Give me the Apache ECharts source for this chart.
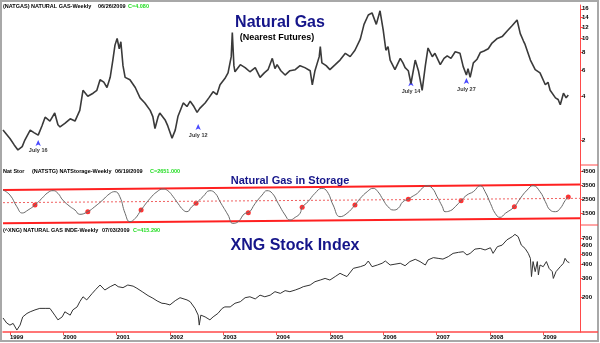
<!DOCTYPE html>
<html><head><meta charset="utf-8">
<script src="https://cdn.jsdelivr.net/npm/echarts@6/dist/echarts.min.js"></script>
<style>html,body{margin:0;padding:0;background:#fff}#c{width:600px;height:343px}</style>
</head><body><div id="c"></div>
<script>
// ---------- DATA ----------
const yearTicks = [1999,2000,2001,2002,2003,2004,2005,2006,2007,2008,2009];
const ngTicks = [2,4,6,8,10,12,14,16];
const storTicks = [1500,2500,3500,4500];
const xngTicks = [200,300,400,500,600,700];

// Natural gas nearest futures (weekly, $)
const ngYears = [1998.87,1999.00,1999.08,1999.15,1999.23,1999.28,1999.38,1999.45,1999.53,1999.60,
 1999.66,1999.75,1999.84,1999.90,1999.94,2000.03,2000.13,2000.22,2000.31,2000.37,
 2000.46,2000.56,2000.63,2000.69,2000.76,2000.82,2000.88,2000.93,2000.97,2001.01,
 2001.05,2001.08,2001.12,2001.16,2001.25,2001.35,2001.44,2001.53,2001.63,2001.68,
 2001.72,2001.78,2001.81,2001.91,2001.96,2002.04,2002.10,2002.15,2002.25,2002.32,
 2002.38,2002.45,2002.51,2002.56,2002.66,2002.73,2002.81,2002.88,2002.94,2003.03,
 2003.09,2003.15,2003.17,2003.20,2003.22,2003.32,2003.41,2003.50,2003.60,2003.69,
 2003.77,2003.84,2003.92,2003.97,2004.01,2004.08,2004.16,2004.25,2004.35,2004.44,
 2004.53,2004.63,2004.67,2004.72,2004.80,2004.82,2004.85,2004.93,2005.00,2005.10,
 2005.19,2005.29,2005.38,2005.47,2005.57,2005.64,2005.72,2005.79,2005.87,2005.94,
 2006.00,2006.05,2006.09,2006.13,2006.22,2006.32,2006.37,2006.41,2006.47,2006.52,
 2006.60,2006.66,2006.73,2006.79,2006.84,2006.92,2006.97,2007.07,2007.14,2007.20,
 2007.27,2007.35,2007.44,2007.50,2007.56,2007.59,2007.63,2007.69,2007.76,2007.82,
 2007.89,2007.97,2008.04,2008.14,2008.23,2008.32,2008.42,2008.51,2008.57,2008.63,
 2008.66,2008.76,2008.85,2008.94,2009.04,2009.09,2009.13,2009.23,2009.28,2009.32,
 2009.38,2009.43,2009.47];
const ngPrice = [2.34,2.05,1.85,1.71,1.8,2.0,2.34,2.25,2.16,2.5,
 2.87,2.7,3.07,2.55,2.46,2.6,2.8,2.7,3.2,4.4,
 4.0,4.2,4.4,5.2,5.0,4.6,5.4,7.1,9.0,10.0,
 8.5,9.5,6.5,5.4,5.2,4.6,3.9,3.6,3.2,2.9,
 2.4,2.9,3.07,2.75,2.5,2.06,2.34,2.9,3.6,3.4,
 3.7,3.4,3.1,3.3,3.6,3.9,4.3,4.1,4.8,5.3,
 5.8,7.5,11.0,6.5,5.9,6.6,6.3,5.9,6.3,5.4,
 5.8,6.1,7.3,6.2,6.6,6.0,5.6,6.0,6.1,6.5,
 6.3,6.0,4.8,6.0,7.5,8.8,6.8,6.5,6.1,6.6,
 7.1,7.9,7.5,8.3,9.9,12.5,14.5,15.0,12.5,15.5,
 11.4,8.3,8.8,7.1,6.1,7.3,6.8,6.3,6.0,4.9,
 7.1,6.0,4.4,6.5,8.6,7.5,7.9,6.6,7.3,7.6,
 7.3,8.1,7.9,6.4,5.6,6.2,5.4,6.8,7.2,8.0,
 8.2,8.5,9.3,10.0,10.3,11.2,12.3,13.4,10.8,9.6,
 9.1,7.1,6.1,5.8,4.8,5.0,4.4,3.9,3.8,3.5,
 4.2,3.9,4.08];

// annotation arrows
const annYears = [1999.53, 2002.53, 2006.52, 2007.56];
const annPrice = [2.1, 2.7, 5.4, 5.6];
const annLabels = ['July 16', 'July 12', 'July 14', 'July 27'];

// Natural gas in storage (Bcf)
const storYears = [1998.87,1999.00,1999.13,1999.23,1999.34,1999.47,1999.60,1999.71,1999.81,1999.90,
 1999.99,2000.13,2000.22,2000.31,2000.46,2000.59,2000.74,2000.88,2000.97,2001.06,
 2001.16,2001.25,2001.35,2001.46,2001.63,2001.76,2001.87,2001.96,2002.06,2002.15,
 2002.25,2002.32,2002.41,2002.49,2002.62,2002.75,2002.85,2002.94,2003.09,2003.18,
 2003.28,2003.41,2003.47,2003.60,2003.73,2003.82,2003.92,2004.03,2004.16,2004.25,
 2004.35,2004.44,2004.48,2004.59,2004.72,2004.85,2004.95,2005.06,2005.19,2005.32,
 2005.47,2005.57,2005.70,2005.81,2005.90,2006.00,2006.09,2006.19,2006.28,2006.37,
 2006.47,2006.54,2006.64,2006.73,2006.82,2006.92,2007.01,2007.11,2007.16,2007.26,
 2007.35,2007.46,2007.57,2007.69,2007.82,2007.91,2008.01,2008.10,2008.19,2008.29,
 2008.46,2008.57,2008.70,2008.81,2008.94,2009.04,2009.13,2009.23,2009.32,2009.41,
 2009.47];
const storValues = [3143,2786,1950,1500,1714,2071,2548,2952,3095,2905,
 2429,1950,1714,1405,1595,1950,2429,2905,3024,2667,
 1476,881,1119,1714,2548,3024,3214,3095,2667,2190,
 1714,1595,1950,2190,2667,3095,2905,2310,1357,762,
 881,1476,1524,2190,2786,3095,2905,2190,1357,1000,
 1190,1476,1905,2310,2905,3262,3024,2071,1238,1476,
 2071,2548,3024,3262,3024,2429,1950,1714,1833,2310,
 2476,2667,2905,3262,3452,3262,2667,1950,1595,1667,
 1950,2381,2786,3024,3452,3024,2190,1476,1190,1476,
 1950,2548,3143,3452,3024,2310,1714,1595,1833,2381,
 2651];
// July readings (red dots)
const dotYears = [1999.47,2000.46,2001.46,2002.49,2003.47,2004.48,2005.47,2006.47,2007.46,2008.46,2009.47];
const dotValues = [2071,1595,1714,2190,1524,1905,2071,2476,2381,1950,2651];
// channel lines
const chanYears = [1998.87, 2009.69];
const chanTop = [3143, 3536];
const chanMid = [2238, 2548];
const chanBot = [764, 1121];

// XNG stock index (weekly)
const xngYears = [1998.87,1998.94,1999.00,1999.06,1999.13,1999.19,1999.24,1999.32,1999.38,1999.47,
 1999.56,1999.66,1999.75,1999.84,1999.90,1999.98,2000.03,2000.13,2000.18,2000.26,
 2000.31,2000.37,2000.44,2000.54,2000.61,2000.69,2000.78,2000.88,2000.97,2001.03,
 2001.12,2001.21,2001.31,2001.38,2001.48,2001.59,2001.68,2001.76,2001.85,2001.91,
 2002.00,2002.10,2002.19,2002.32,2002.38,2002.47,2002.53,2002.55,2002.58,2002.66,
 2002.75,2002.81,2002.90,2002.98,2003.03,2003.13,2003.22,2003.32,2003.41,2003.50,
 2003.60,2003.69,2003.78,2003.88,2003.97,2004.07,2004.16,2004.25,2004.35,2004.44,
 2004.50,2004.63,2004.72,2004.82,2004.91,2005.00,2005.10,2005.19,2005.25,2005.32,
 2005.44,2005.57,2005.66,2005.72,2005.79,2005.89,2005.98,2006.04,2006.13,2006.22,
 2006.32,2006.41,2006.50,2006.60,2006.69,2006.79,2006.84,2006.94,2007.03,2007.12,
 2007.22,2007.31,2007.41,2007.50,2007.57,2007.63,2007.72,2007.82,2007.91,2008.01,
 2008.06,2008.14,2008.23,2008.32,2008.42,2008.47,2008.53,2008.59,2008.66,2008.72,
 2008.76,2008.78,2008.81,2008.85,2008.89,2008.91,2008.94,2009.00,2009.06,2009.11,
 2009.17,2009.19,2009.24,2009.32,2009.38,2009.41,2009.45,2009.49];
const xngValues = [128,115,110,114,99,110,131,141,146,152,
 157,157,157,136,123,131,146,136,152,162,
 181,201,188,215,235,258,232,249,262,249,
 244,258,252,241,224,206,195,184,175,174,
 169,185,197,188,181,157,136,110,136,131,
 123,131,141,157,162,162,175,181,197,201,
 192,208,201,208,224,216,229,224,232,241,
 249,258,277,287,297,287,309,331,320,309,
 368,381,395,430,381,395,410,430,395,402,
 410,389,425,446,425,395,440,462,455,448,
 472,506,517,524,489,506,554,562,544,570,
 506,583,603,675,722,758,722,603,562,506,
 455,309,425,343,425,320,395,381,425,368,
 343,297,343,381,410,455,425,415.29];

// ---------- CHART ----------
const X_MIN = 1998.87, X_MAX = 2009.69;
const RED = '#ff4a4a';
const FONT = '"Liberation Sans", Arial, sans-serif';
const chart = echarts.init(document.getElementById('c'), null, {renderer: 'canvas'});

function xAxisCfg(i, show) {
  return {
    type: 'value', gridIndex: i, min: X_MIN, max: X_MAX, show: show,
    axisLine: {show: show, lineStyle: {color: RED, width: 1.5}},
    axisTick: {show: show, customValues: yearTicks, length: 3, lineStyle: {color: RED}},
    axisLabel: {show: show, customValues: yearTicks, formatter: v => String(Math.round(v)),
      align: 'left', margin: 2, fontSize: 6, fontWeight: 'bold', color: '#000', fontFamily: FONT},
    splitLine: {show: false}
  };
}
function yAxisCfg(i, min, max, ticks, logged) {
  const vals = logged ? ticks.map(Math.log) : ticks;
  return {
    type: 'value', gridIndex: i, position: 'right', min: min, max: max,
    axisLine: {show: true, onZero: false, lineStyle: {color: RED, width: 1}},
    axisTick: {show: true, customValues: vals, length: 3, lineStyle: {color: RED}},
    axisLabel: {customValues: vals, formatter: v => String(Math.round(logged ? Math.exp(v) : v)),
      margin: 2, fontSize: 6, fontWeight: 'bold', color: '#000', fontFamily: FONT},
    splitLine: {show: false}
  };
}

function txt(x, y, s, font, fill, align) {
  return {type: 'text', x: x, y: y, silent: true,
    style: {text: s, font: font, fill: fill, align: align || 'left', verticalAlign: 'middle'}};
}
const HF = 'bold 5.5px ' + FONT;
const GREEN = '#22dd22';
const NAVY = '#15158a';

const option = {
  animation: false,
  backgroundColor: '#fff',
  grid: [
    {left: 3, right: 20, top: 5, height: 160},
    {left: 3, right: 20, top: 165, height: 60},
    {left: 3, right: 20, top: 225, height: 107}
  ],
  xAxis: [xAxisCfg(0, false), xAxisCfg(1, false), xAxisCfg(2, true)],
  yAxis: [
    yAxisCfg(0, Math.log(1.346), Math.log(17.0), ngTicks, true),
    yAxisCfg(1, 643, 4929, storTicks, false),
    yAxisCfg(2, Math.log(95), Math.log(925), xngTicks, true)
  ],
  series: [
    {type: 'line', xAxisIndex: 0, yAxisIndex: 0, showSymbol: false, silent: true,
      data: ngYears.map((t, i) => [t, Math.log(ngPrice[i])]),
      lineStyle: {color: '#3a3a3a', width: 1.6}},
    {type: 'scatter', xAxisIndex: 0, yAxisIndex: 0, silent: true,
      symbol: 'arrow', symbolSize: [4, 6], symbolOffset: [0, 3],
      itemStyle: {color: '#1a1aff'},
      data: annYears.map((t, i) => ({value: [t, Math.log(annPrice[i])], name: annLabels[i]})),
      label: {show: true, position: 'bottom', distance: 2, formatter: p => p.name,
        fontSize: 5.5, fontWeight: 'bold', color: '#000', fontFamily: FONT}},
    {type: 'line', xAxisIndex: 1, yAxisIndex: 1, showSymbol: false, silent: true,
      data: chanYears.map((t, i) => [t, chanTop[i]]), lineStyle: {color: '#ff2020', width: 2}},
    {type: 'line', xAxisIndex: 1, yAxisIndex: 1, showSymbol: false, silent: true,
      data: chanYears.map((t, i) => [t, chanBot[i]]), lineStyle: {color: '#ff2020', width: 2}},
    {type: 'line', xAxisIndex: 1, yAxisIndex: 1, showSymbol: false, silent: true,
      data: chanYears.map((t, i) => [t, chanMid[i]]), lineStyle: {color: '#f06060', width: 1, type: [2, 2]}},
    {type: 'line', xAxisIndex: 1, yAxisIndex: 1, showSymbol: false, silent: true, smooth: 0.5,
      data: storYears.map((t, i) => [t, storValues[i]]), lineStyle: {color: '#6a6a6a', width: 1}},
    {type: 'scatter', xAxisIndex: 1, yAxisIndex: 1, silent: true, symbolSize: 5,
      data: dotYears.map((t, i) => [t, dotValues[i]]), itemStyle: {color: '#ff0000'}},
    {type: 'line', xAxisIndex: 2, yAxisIndex: 2, showSymbol: false, silent: true,
      data: xngYears.map((t, i) => [t, Math.log(xngValues[i])]),
      lineStyle: {color: '#333', width: 1}}
  ],
  graphic: [
    {type: 'rect', silent: true, shape: {x: 1, y: 1, width: 597, height: 340},
      style: {fill: null, stroke: '#a8a8a8', lineWidth: 2}},
    {type: 'line', silent: true, shape: {x1: 580, y1: 165, x2: 598, y2: 165}, style: {stroke: RED, lineWidth: 1}},
    {type: 'line', silent: true, shape: {x1: 580, y1: 225, x2: 598, y2: 225}, style: {stroke: RED, lineWidth: 1}},
    {type: 'line', silent: true, shape: {x1: 580, y1: 332, x2: 598, y2: 332}, style: {stroke: RED, lineWidth: 1.5}},
    txt(3, 6, '(NATGAS) NATURAL GAS-Weekly', HF, '#000'),
    txt(98, 6, '06/26/2009', HF, '#000'),
    txt(128, 6, 'C=4.080', HF, GREEN),
    txt(3, 171, 'Nat Stor', HF, '#000'),
    txt(32, 171, '(NATSTG) NATStorage-Weekly', HF, '#000'),
    txt(115, 171, '06/19/2009', HF, '#000'),
    txt(150, 171, 'C=2651.000', HF, GREEN),
    txt(3, 230, '(^XNG) NATURAL GAS INDE-Weekly', HF, '#000'),
    txt(102, 230, '07/03/2009', HF, '#000'),
    txt(133, 230, 'C=415.290', HF, GREEN),
    txt(280, 23, 'Natural Gas', 'bold 16px ' + FONT, NAVY, 'center'),
    txt(277, 38, '(Nearest Futures)', 'bold 9px ' + FONT, '#000', 'center'),
    txt(290, 181, 'Natural Gas in Storage', 'bold 11px ' + FONT, NAVY, 'center'),
    txt(295, 246, 'XNG Stock Index', 'bold 16px ' + FONT, NAVY, 'center')
  ]
};
chart.setOption(option);
</script>
</body></html>
